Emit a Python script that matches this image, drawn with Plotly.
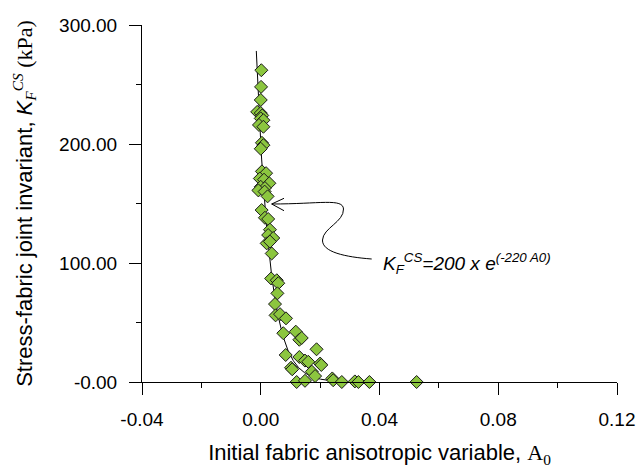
import numpy as np
import plotly.graph_objects as go

# Measured data points: initial fabric anisotropic variable A0 vs K_F^CS (kPa)
a0 = [0.0002, 0.0001, 0.0000, -0.0012, 0.0000, 0.0005, 0.0000, 0.0009, -0.0006, 0.0009,
      0.0004, 0.0009, 0.0000, 0.0004, 0.0018, -0.0003, 0.0011, 0.0029, 0.0000, 0.0014,
      -0.0008, 0.0013, 0.0023, 0.0003, 0.0014, 0.0025, 0.0031, 0.0025, 0.0042, 0.0020,
      0.0031, 0.0037, 0.0035, 0.0054, 0.0059, 0.0056, 0.0048, 0.0050, 0.0065, 0.0085,
      0.0118, 0.0130, 0.0138, 0.0076, 0.0188, 0.0084, 0.0130, 0.0149, 0.0160, 0.0200,
      0.0204, 0.0102, 0.0106, 0.0172, 0.0183, 0.0121, 0.0149, 0.0155, 0.0241, 0.0244,
      0.0273, 0.0317, 0.0329, 0.0366, 0.0525]
kf = [262, 248, 237, 227, 226, 224, 221.5, 220, 216, 214.5,
      201, 199, 196, 177, 175.5, 171, 170, 167, 164, 163,
      161, 160, 156, 144.5, 138, 137, 128, 123.5, 121, 116.5,
      118, 108, 87, 85.5, 83, 74.5, 65.5, 56, 57, 53.5,
      42.3, 35.5, 37, 41, 27.5, 22.7, 21, 18, 17, 15.5,
      14.3, 12, 10.7, 8.7, 5, 0, 1, -0.5, 3, 1.5,
      0, 0.5, 0, 0, 0]

# Fitted model from the chart: K = 200 * exp(-220 * A0)
fit_a, fit_b = 200.0, -220.0
fit_x_range = (-0.0015, 0.026)

x_tickvals = [-0.04, 0.0, 0.04, 0.08, 0.12]
x_ticktext = ["-0.04", "0.00", "0.04", "0.08", "0.12"]
y_tickvals = [0, 100, 200, 300]
y_ticktext = ["-0.00", "100.00", "200.00", "300.00"]

fx = np.linspace(fit_x_range[0], fit_x_range[1], 200)
fy = fit_a * np.exp(fit_b * fx)

SERIF = "Liberation Serif"
FONT = "Liberation Sans, Arial, sans-serif"

fig = go.Figure()
fig.add_trace(go.Scatter(x=fx, y=fy, mode="lines",
                         line=dict(color="black", width=1), showlegend=False,
                         cliponaxis=False))
fig.add_trace(go.Scatter(x=a0, y=kf, mode="markers",
                         marker=dict(symbol="diamond", size=10, color="#8cc63f",
                                     line=dict(color="#1a1a1a", width=1)),
                         showlegend=False, cliponaxis=False))

# Curved pointer from equation to the curve
fig.add_shape(type="path",
              path=("M 0.03737,103.36 C 0.02838,105.04 0.02063,109.24 0.0208,119.33 "
                    "C 0.02097,129.41 0.02804,134.45 0.02787,145.38 "
                    "C 0.0277,154.62 0.01996,149.58 0.00369,149.58"),
              line=dict(color="black", width=1), xref="x", yref="y")
fig.add_shape(type="path",
              path="M 0.00783,154.37 L 0.00369,149.58 L 0.00783,143.95",
              line=dict(color="black", width=1), xref="x", yref="y")

fig.add_annotation(x=0.0406, y=99.5, xref="x", yref="y", xanchor="left", yanchor="middle",
                   text="<i>K<sub>F</sub><sup>CS</sup>=200 x e<sup>(-220 A0)</sup></i>",
                   showarrow=False, font=dict(family=FONT, size=19, color="black"))

fig.update_layout(
    width=638, height=468,
    margin=dict(l=142, r=21, t=25, b=86),
    paper_bgcolor="white", plot_bgcolor="white",
    font=dict(family=FONT, color="black"),
    xaxis=dict(range=[-0.04, 0.12], tickvals=x_tickvals, ticktext=x_ticktext,
               automargin=False,
               showgrid=False, zeroline=False, showline=True, linecolor="black", linewidth=1,
               ticks="outside", ticklen=12, tickcolor="black", tickwidth=1,
               ticklabelstandoff=8, tickfont=dict(size=19, family=FONT),
               minor=dict(dtick=0.02, tick0=0, ticks="outside", ticklen=5,
                          tickcolor="black", tickwidth=1, showgrid=False),
               title=dict(text=("Initial fabric anisotropic variable, "
                                f"<span style='font-family:{SERIF}'>A<sub>0</sub></span>"),
                          font=dict(size=22, family=FONT), standoff=18)),
    yaxis=dict(range=[0, 300], tickvals=y_tickvals, ticktext=y_ticktext,
               automargin=False,
               showgrid=False, zeroline=False, showline=True, linecolor="black", linewidth=1,
               ticks="outside", ticklen=12, tickcolor="black", tickwidth=1,
               ticklabelstandoff=8, tickfont=dict(size=19, family=FONT),
               minor=dict(dtick=50, tick0=0, ticks="outside", ticklen=5,
                          tickcolor="black", tickwidth=1, showgrid=False),
               title=dict(text=("Stress-fabric joint invariant, <i>K</i>"
                                f"<sub><span style='font-family:{SERIF}'><i>F</i></span></sub>"
                                f"<sup><span style='font-family:{SERIF}'><i>CS</i></span></sup>"
                                f"<span style='font-family:{SERIF}'> (kPa)</span>"),
                          font=dict(size=22, family=FONT), standoff=20)),
)

fig.write_html("out.html")
